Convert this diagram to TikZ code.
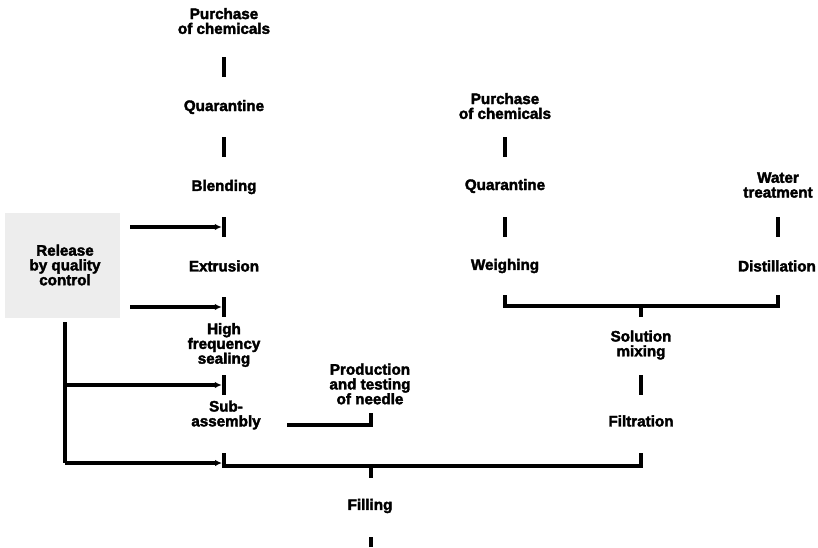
\documentclass[tikz,border=0pt]{standalone}
\usepackage{fontspec}
\setmainfont{Liberation Sans}[BoldFeatures={FakeBold=2.4}]
\usetikzlibrary{arrows.meta}
\begin{document}
\begin{tikzpicture}[x=1pt,y=-1pt,
  lbl/.style={font=\bfseries\fontsize{15.2}{14.8}\selectfont,align=center,inner sep=0pt},
  link/.style={line width=3.3pt},
  tickbar/.style={fill=black,inner sep=0pt,minimum width=4pt,minimum height=20pt},
  feed/.style={line width=3.3pt,-{Latex[length=7pt,width=6.5pt]}},
  qcbox/.style={fill=black!7,draw=none}]
\useasboundingbox (0,0) rectangle (818,547);

% shaded release panel
\fill[qcbox] (5,213) rectangle (120,318);

% left column: container line
\node[lbl] (p1) at (224,21)  {Purchase\\of chemicals};
\node[lbl] (q1) at (224,107) {Quarantine};
\node[lbl] (b1) at (224,187) {Blending};
\node[lbl] (e1) at (224,266) {Extrusion};
\node[lbl] (h1) at (224,345) {High\\frequency\\sealing};
\node[lbl] (s1) at (226,415) {Sub-\\assembly};
\node[lbl] (nd) at (370,384) {Production\\and testing\\of needle};
\node[lbl] (fl) at (370,506) {Filling};
\node[lbl] (rq) at (65,265)  {Release\\by quality\\control};

% right column: solution line
\node[lbl] (p2) at (505,106) {Purchase\\of chemicals};
\node[lbl] (q2) at (505,186) {Quarantine};
\node[lbl] (w2) at (505,266) {Weighing};
\node[lbl] (wt) at (778,185) {Water\\treatment};
\node[lbl] (di) at (777,266) {Distillation};
\node[lbl] (sm) at (641,345) {Solution\\mixing};
\node[lbl] (ft) at (641,421) {Filtration};

% step bars
\node[tickbar] (k1) at (224,67)  {};
\node[tickbar] (k2) at (224,147) {};
\node[tickbar] (k3) at (224,227) {};
\node[tickbar] (k4) at (224,307) {};
\node[tickbar] (k5) at (224,385) {};
\node[tickbar] (k6) at (505,147) {};
\node[tickbar] (k7) at (505,227) {};
\node[tickbar] (k8) at (778,227) {};
\node[tickbar] (k9) at (641,385) {};
\node[tickbar,minimum height=10pt] (k10) at (371,542) {};

% release feeds
\coordinate (r1) at (130,227);
\coordinate (r2) at (130,307);
\coordinate (rt) at (65,322);
\coordinate (rm) at (65,385);
\coordinate (rb) at (65,463);
\coordinate (sb) at (222,463);
\draw[feed] (r1) -- (k3.west);
\draw[feed] (r2) -- (k4.west);
\draw[link] (rt) -- (rb);
\draw[feed] (rm) -- (k5.west);
\draw[feed] (rb) -- (sb);

% needle joins sub-assembly
\coordinate (n1) at (287,425);
\coordinate (n2) at (371,413);
\draw[link] (n1) -| (n2);

% weighing and distillation merge into solution mixing
\coordinate (wa) at (505,295);
\coordinate (da) at (778,295);
\coordinate (ma) at (641,306);
\coordinate (mb) at (641,317);
\draw[link] (wa) |- (ma) -| (da);
\draw[line width=4pt] (ma) -- (mb);

% container and solution merge into filling
\coordinate (ca) at (224,453);
\coordinate (fa) at (641,453);
\coordinate (ja) at (371,466);
\coordinate (jb) at (371,478);
\draw[link] (ca) |- (ja) -| (fa);
\draw[line width=4pt] (ja) -- (jb);
\end{tikzpicture}
\end{document}
